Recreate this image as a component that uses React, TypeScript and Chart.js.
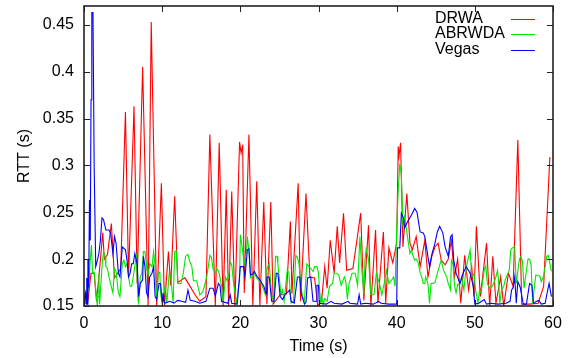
import { useEffect, useRef } from 'react';
import { Chart, registerables } from 'chart.js';
Chart.register(...registerables);

const xTickValues = [0, 10, 20, 30, 40, 50, 60];
const yTickValues = [0.15, 0.2, 0.25, 0.3, 0.35, 0.4, 0.45];
const seriesNames = ['DRWA', 'ABRWDA', 'Vegas'];
const seriesColors = ['#ff0000', '#00e600', '#0000ff'];

const drwa: [number, number][] = [
  [0.0,0.152],[0.5,0.155],[0.9,0.185],[1.3,0.185],[1.6,0.155],[2.0,0.19],[2.4,0.228],[2.6,0.2],[3.0,0.205],[3.5,0.238],
  [3.9,0.18],[4.3,0.185],[4.7,0.19],[5.3,0.357],[5.7,0.181],[6.4,0.363],[6.8,0.174],[7.5,0.405],[8.2,0.15],[8.6,0.453],
  [9.3,0.15],[9.9,0.281],[10.3,0.15],[10.8,0.208],[11.1,0.172],[11.6,0.267],[12.0,0.175],[12.9,0.18],[13.5,0.172],[14.2,0.162],
  [14.8,0.155],[15.6,0.16],[16.1,0.333],[16.8,0.15],[17.3,0.324],[17.8,0.15],[18.2,0.274],[18.5,0.15],[18.9,0.272],[19.3,0.15],
  [19.9,0.325],[20.1,0.313],[20.3,0.322],[20.5,0.164],[21.1,0.333],[21.6,0.15],[22.1,0.283],[22.5,0.15],[23.0,0.261],[23.4,0.152],
  [23.9,0.261],[24.2,0.152],[25.1,0.162],[25.9,0.163],[26.4,0.24],[26.6,0.163],[27.4,0.281],[27.7,0.155],[28.4,0.27],[28.9,0.181],
  [29.5,0.18],[29.9,0.15],[30.4,0.156],[30.8,0.192],[31.1,0.169],[31.5,0.22],[32.0,0.185],[32.4,0.235],[32.7,0.196],[33.2,0.249],
  [33.6,0.188],[34.4,0.19],[35.4,0.249],[35.8,0.156],[36.4,0.236],[36.7,0.15],[37.3,0.231],[37.6,0.153],[38.3,0.229],[38.6,0.153],
  [39.0,0.212],[39.5,0.196],[40.0,0.217],[40.2,0.32],[40.3,0.31],[40.5,0.324],[40.8,0.213],[41.3,0.27],[41.7,0.217],[42.0,0.21],
  [42.5,0.224],[43.0,0.192],[43.6,0.22],[44.0,0.181],[44.5,0.203],[44.9,0.213],[45.3,0.217],[45.7,0.199],[46.2,0.194],[46.6,0.2],
  [47.0,0.22],[47.4,0.181],[47.8,0.2],[48.2,0.153],[48.7,0.204],[49.2,0.167],[49.6,0.192],[49.9,0.16],[50.2,0.235],[50.7,0.16],
  [51.5,0.217],[51.9,0.15],[52.3,0.203],[52.7,0.153],[53.3,0.181],[53.7,0.15],[54.3,0.185],[54.9,0.171],[55.5,0.327],[56.0,0.152],
  [57.0,0.152],[58.1,0.153],[58.8,0.171],[59.6,0.309]
];

const abrwda: [number, number][] = [
  [0.0,0.155],[0.3,0.16],[0.6,0.17],[0.8,0.199],[0.95,0.215],[1.1,0.185],[1.3,0.186],[1.7,0.15],[1.8,0.16],[1.9,0.185],
  [2.0,0.152],[2.3,0.192],[2.5,0.208],[2.7,0.203],[2.8,0.192],[3.0,0.19],[3.2,0.181],[3.6,0.167],[3.7,0.164],[3.9,0.19],
  [4.1,0.187],[4.4,0.164],[4.6,0.16],[4.9,0.195],[5.1,0.199],[5.3,0.192],[5.5,0.195],[5.7,0.181],[5.9,0.171],[6.1,0.171],
  [6.3,0.181],[6.5,0.192],[6.7,0.206],[6.9,0.157],[7.0,0.153],[7.2,0.181],[7.4,0.185],[7.6,0.208],[7.8,0.208],[8.0,0.192],
  [8.2,0.183],[8.4,0.195],[8.7,0.192],[8.9,0.208],[9.1,0.192],[9.3,0.157],[9.5,0.185],[9.7,0.186],[9.8,0.164],[10.0,0.152],
  [10.2,0.162],[10.4,0.172],[10.6,0.153],[10.9,0.185],[11.1,0.182],[11.4,0.153],[11.6,0.208],[11.8,0.209],[12.0,0.174],[12.4,0.174],
  [12.7,0.185],[13.0,0.203],[13.3,0.205],[13.5,0.198],[13.8,0.192],[14.0,0.177],[14.4,0.177],[14.7,0.167],[14.8,0.162],[15.2,0.165],
  [15.7,0.181],[15.9,0.192],[16.1,0.204],[16.3,0.202],[16.5,0.19],[16.8,0.185],[17.0,0.19],[17.3,0.185],[17.6,0.171],[17.8,0.153],
  [18.1,0.181],[18.3,0.177],[18.5,0.181],[18.7,0.197],[18.9,0.194],[19.1,0.177],[19.5,0.153],[19.9,0.177],[20.0,0.226],[20.2,0.215],
  [20.5,0.195],[20.8,0.209],[20.9,0.224],[21.1,0.209],[21.3,0.18],[21.6,0.182],[21.8,0.185],[22.1,0.18],[22.7,0.174],[23.0,0.167],
  [23.2,0.162],[23.3,0.188],[23.7,0.195],[24.0,0.162],[24.3,0.155],[24.5,0.203],[24.7,0.203],[24.8,0.195],[25.2,0.162],[25.4,0.167],
  [25.6,0.155],[26.0,0.188],[26.2,0.186],[26.5,0.153],[26.8,0.155],[27.1,0.204],[27.3,0.202],[27.5,0.195],[27.9,0.162],[28.2,0.155],
  [28.5,0.195],[28.8,0.192],[29.0,0.19],[29.3,0.187],[29.5,0.192],[29.8,0.192],[30.0,0.185],[30.1,0.171],[30.3,0.152],[30.4,0.16],
  [30.6,0.152],[30.8,0.158],[31.1,0.155],[31.4,0.171],[31.8,0.174],[32.0,0.185],[32.3,0.185],[32.6,0.183],[32.9,0.172],[33.3,0.181],
  [33.5,0.176],[33.7,0.157],[33.9,0.174],[34.3,0.185],[34.7,0.185],[35.0,0.172],[35.3,0.224],[35.5,0.193],[35.8,0.162],[35.95,0.2],
  [36.1,0.211],[36.4,0.2],[36.7,0.162],[37.1,0.162],[37.4,0.185],[37.8,0.174],[38.1,0.162],[38.4,0.174],[38.7,0.188],[39.0,0.174],
  [39.3,0.177],[39.6,0.181],[39.8,0.171],[40.0,0.231],[40.2,0.274],[40.4,0.302],[40.6,0.29],[40.8,0.235],[41.0,0.245],[41.2,0.235],
  [41.5,0.217],[41.7,0.206],[41.9,0.21],[42.0,0.206],[42.3,0.199],[42.5,0.2],[42.8,0.195],[43.0,0.185],[43.2,0.181],[43.4,0.174],
  [43.6,0.174],[43.7,0.181],[44.0,0.174],[44.2,0.153],[44.4,0.174],[44.6,0.174],[44.9,0.175],[45.3,0.188],[45.7,0.199],[46.0,0.188],
  [46.4,0.181],[46.6,0.174],[46.9,0.167],[47.0,0.199],[47.2,0.195],[47.4,0.172],[47.6,0.164],[47.8,0.173],[48.0,0.172],[48.3,0.181],
  [48.6,0.167],[48.8,0.184],[49.0,0.195],[49.4,0.21],[49.6,0.181],[49.9,0.184],[50.1,0.167],[50.4,0.153],[50.6,0.167],[50.8,0.164],
  [51.2,0.188],[51.4,0.193],[51.6,0.174],[51.9,0.169],[52.2,0.171],[52.4,0.174],[52.7,0.181],[52.9,0.188],[53.0,0.181],[53.2,0.153],
  [53.4,0.167],[53.7,0.171],[53.9,0.178],[54.4,0.188],[54.6,0.21],[54.8,0.212],[55.1,0.213],[55.3,0.174],[55.7,0.2],[55.9,0.203],
  [56.1,0.197],[56.3,0.169],[56.6,0.188],[56.8,0.2],[57.0,0.2],[57.2,0.194],[57.4,0.153],[57.6,0.169],[57.8,0.183],[58.3,0.182],
  [58.5,0.176],[58.8,0.182],[59.2,0.203],[59.4,0.204],[59.8,0.187]
];

const vegas: [number, number][] = [
  [0.0,0.155],[0.1,0.16],[0.2,0.164],[0.3,0.152],[0.35,0.18],[0.45,0.152],[0.5,0.199],[0.6,0.17],[0.7,0.263],[0.8,0.22],
  [0.9,0.37],[1.0,0.463],[1.15,0.463],[1.3,0.299],[1.5,0.192],[1.6,0.195],[1.9,0.206],[2.1,0.22],[2.3,0.244],[2.5,0.242],
  [2.8,0.231],[3.2,0.231],[3.4,0.228],[3.7,0.206],[3.9,0.224],[4.1,0.217],[4.4,0.185],[4.6,0.181],[4.9,0.213],[5.3,0.21],
  [5.5,0.199],[5.7,0.181],[5.9,0.185],[6.1,0.195],[6.3,0.195],[6.5,0.206],[6.8,0.195],[7.0,0.16],[7.2,0.174],[7.5,0.178],
  [7.6,0.203],[7.8,0.192],[8.0,0.164],[8.2,0.16],[8.4,0.181],[8.7,0.185],[8.9,0.192],[9.1,0.16],[9.3,0.157],[9.6,0.174],
  [9.8,0.174],[10.0,0.155],[10.1,0.164],[10.3,0.153],[11.0,0.155],[11.5,0.153],[12.0,0.156],[12.5,0.155],[13.0,0.154],[13.3,0.167],
  [13.6,0.156],[14.2,0.155],[14.8,0.153],[15.6,0.155],[16.1,0.169],[16.5,0.169],[16.8,0.161],[17.2,0.174],[17.4,0.172],[17.6,0.155],
  [18.4,0.153],[18.7,0.162],[18.9,0.153],[19.6,0.152],[20.0,0.192],[20.4,0.192],[20.6,0.181],[20.9,0.21],[21.1,0.211],[21.3,0.183],
  [21.6,0.184],[21.8,0.187],[22.1,0.182],[22.5,0.178],[23.0,0.171],[23.3,0.163],[23.4,0.181],[23.7,0.181],[24.0,0.155],[24.3,0.155],
  [24.6,0.185],[24.8,0.185],[25.1,0.16],[25.4,0.157],[25.8,0.163],[26.1,0.165],[26.3,0.167],[26.5,0.155],[26.9,0.153],[27.3,0.181],
  [27.6,0.181],[27.8,0.163],[28.2,0.152],[28.4,0.154],[28.6,0.18],[29.0,0.181],[29.3,0.155],[29.7,0.155],[29.8,0.172],[30.0,0.172],
  [30.1,0.153],[31.0,0.152],[31.6,0.155],[32.0,0.153],[33.0,0.152],[33.8,0.155],[34.0,0.153],[35.0,0.152],[35.2,0.162],[35.4,0.152],
  [36.0,0.153],[37.0,0.152],[37.7,0.155],[38.0,0.153],[39.0,0.152],[40.0,0.152],[40.1,0.212],[40.4,0.212],[40.6,0.249],[40.9,0.243],
  [41.0,0.233],[41.4,0.24],[41.9,0.247],[42.3,0.254],[42.6,0.25],[43.0,0.229],[43.4,0.228],[43.6,0.224],[43.9,0.208],[44.2,0.192],
  [44.5,0.205],[44.9,0.217],[45.2,0.229],[45.5,0.235],[45.9,0.228],[46.2,0.213],[46.6,0.203],[46.9,0.224],[47.1,0.226],[47.3,0.199],
  [47.6,0.185],[48.1,0.174],[48.5,0.185],[48.9,0.192],[49.4,0.185],[49.8,0.171],[50.0,0.152],[50.5,0.153],[51.2,0.157],[51.5,0.152],
  [52.0,0.153],[53.0,0.152],[54.0,0.153],[54.5,0.155],[54.7,0.167],[54.9,0.17],[55.1,0.181],[55.3,0.153],[55.5,0.176],[55.8,0.17],
  [56.2,0.152],[56.6,0.152],[57.0,0.174],[57.3,0.172],[57.5,0.153],[57.9,0.155],[58.2,0.156],[58.5,0.152],[59.0,0.153],[59.2,0.162],
  [59.5,0.174],[59.8,0.16]
];

const seriesData = [drwa, abrwda, vegas];
const FONT = '"Liberation Sans", Arial, Helvetica, sans-serif';

const framePlugin = {
  id: 'gnuFrame',
  afterDatasetsDraw(chart: any) {
    const { ctx, chartArea: a, scales } = chart;
    ctx.save();
    ctx.strokeStyle = '#222';
    ctx.lineWidth = 1;
    const tl = 6;
    ctx.beginPath();
    for (const v of xTickValues) {
      const px = Math.round(scales.x.getPixelForValue(v)) + 0.5;
      ctx.moveTo(px, a.bottom); ctx.lineTo(px, a.bottom - tl);
      ctx.moveTo(px, a.top); ctx.lineTo(px, a.top + tl);
    }
    for (const v of yTickValues) {
      const py = Math.round(scales.y.getPixelForValue(v)) + 0.5;
      ctx.moveTo(a.left, py); ctx.lineTo(a.left + tl, py);
      ctx.moveTo(a.right, py); ctx.lineTo(a.right - tl, py);
    }
    ctx.stroke();
    ctx.lineWidth = 1.6;
    ctx.strokeStyle = '#222';
    ctx.strokeRect(a.left, a.top, a.right - a.left, a.bottom - a.top);
    // legend
    ctx.font = `16px ${FONT}`;
    ctx.fillStyle = '#000';
    ctx.textBaseline = 'middle';
    ctx.textAlign = 'left';
    const rowY = [12.5, 28, 44];
    seriesNames.forEach((name, i) => {
      const y = a.top + rowY[i];
      ctx.fillText(name, a.right - 118, y);
      ctx.beginPath();
      ctx.strokeStyle = seriesColors[i];
      ctx.lineWidth = 1;
      ctx.moveTo(a.right - 42, Math.round(y) + 0.5);
      ctx.lineTo(a.right - 18, Math.round(y) + 0.5);
      ctx.stroke();
    });
    ctx.restore();
  },
};

const zeroPad = (s: any) => {
  s.paddingTop = 0;
  s.paddingBottom = 0;
  s.paddingLeft = 0;
  s.paddingRight = 0;
};

export default function App() {
  const ref = useRef<HTMLCanvasElement | null>(null);
  useEffect(() => {
    document.body.style.margin = '0';
    const canvas = ref.current;
    if (!canvas) return;
    const chart = new Chart(canvas, {
      type: 'line',
      data: {
        datasets: seriesNames.map((name, i) => ({
          label: name,
          data: seriesData[i].map(([x, y]) => ({ x, y })),
          borderColor: seriesColors[i],
          backgroundColor: seriesColors[i],
          borderWidth: 1.1,
          pointRadius: 0,
          tension: 0,
          fill: false,
          order: 2 - i,
        })),
      },
      options: {
        responsive: false,
        animation: false,
        events: [],
        layout: { padding: { left: 0, right: 23, top: 6, bottom: 0 } },
        plugins: { legend: { display: false }, tooltip: { enabled: false } },
        scales: {
          x: {
            type: 'linear',
            min: 0,
            max: 60,
            afterBuildTicks: (s: any) => { s.ticks = xTickValues.map((v) => ({ value: v })); },
            afterFit: (s: any) => { s.height = 52; zeroPad(s); },
            grid: { display: false, drawTicks: false },
            border: { display: false },
            ticks: { font: { family: FONT, size: 16 }, color: '#000', padding: 8, maxRotation: 0, callback: (v: any) => String(v) },
            title: { display: true, text: 'Time (s)', font: { family: FONT, size: 16 }, color: '#000', padding: { top: 0, bottom: 2 } },
          },
          y: {
            type: 'linear',
            min: 0.15,
            max: 0.47,
            afterBuildTicks: (s: any) => { s.ticks = yTickValues.map((v) => ({ value: v })); },
            afterFit: (s: any) => { s.width = 84; zeroPad(s); },
            grid: { display: false, drawTicks: false },
            border: { display: false },
            ticks: { font: { family: FONT, size: 16 }, color: '#000', padding: 10, callback: (v: any) => String(Math.round(v * 100) / 100) },
            title: { display: true, text: 'RTT (s)', font: { family: FONT, size: 16 }, color: '#000', padding: { top: 15, bottom: 0 } },
          },
        },
      },
      plugins: [framePlugin],
    });
    return () => chart.destroy();
  }, []);
  return (
    <div style={{ width: 576, height: 358 }}>
      <canvas ref={ref} width={576} height={358} style={{ display: 'block' }} />
    </div>
  );
}
